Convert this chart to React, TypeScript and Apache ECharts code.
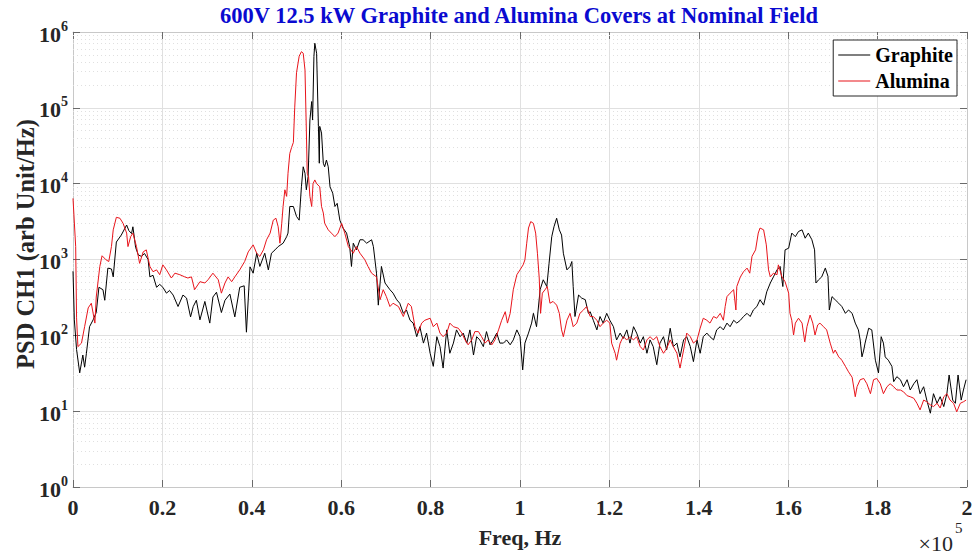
import React, { useEffect, useRef } from 'react';
import * as echarts from 'echarts';

const FF = '"Times New Roman", "Liberation Serif", serif';

const seriesNames = ['Graphite', 'Alumina'];
const chartTitle = '600V 12.5 kW Graphite and Alumina Covers at Nominal Field';
const xName = 'Freq, Hz';
const yName = 'PSD CH1 (arb Unit/Hz)';
const xTickLabels = ['0', '0.2', '0.4', '0.6', '0.8', '1', '1.2', '1.4', '1.6', '1.8', '2'];
const yDecades = [0, 1, 2, 3, 4, 5, 6];
const minorMultipliers = [2, 3, 4, 5, 6, 7, 8, 9];

// Frequency in units of 1e5 Hz, PSD in arb Unit/Hz
const graphite: [number, number][] = [
  [0, 700], [0.003, 160], [0.008, 65], [0.015, 32], [0.022, 55], [0.026, 38], [0.030, 58], [0.037, 130],
  [0.045, 160], [0.052, 200], [0.058, 430], [0.067, 400], [0.071, 290], [0.078, 770], [0.086, 750], [0.090, 590],
  [0.097, 1700], [0.108, 2100], [0.120, 2850], [0.125, 2400], [0.131, 2200], [0.134, 2700], [0.140, 1450], [0.146, 1150],
  [0.153, 1100], [0.160, 1200], [0.168, 1000], [0.172, 590], [0.179, 620], [0.187, 430], [0.194, 470], [0.201, 430],
  [0.209, 360], [0.216, 390], [0.224, 340], [0.235, 240], [0.246, 340], [0.254, 310], [0.263, 175], [0.269, 240],
  [0.276, 290], [0.284, 160], [0.295, 280], [0.306, 145], [0.313, 320], [0.321, 370], [0.332, 200], [0.340, 290],
  [0.351, 350], [0.362, 175], [0.373, 430], [0.383, 450], [0.388, 110], [0.396, 800], [0.403, 660], [0.411, 1210],
  [0.418, 810], [0.429, 1210], [0.437, 730], [0.444, 1210], [0.452, 1340], [0.459, 1480], [0.470, 1640], [0.478, 2000],
  [0.481, 2230], [0.485, 5000], [0.493, 5000], [0.500, 3700], [0.506, 3300], [0.511, 9100], [0.515, 16700], [0.519, 13700],
  [0.522, 8300], [0.526, 12400], [0.530, 69000], [0.534, 121000], [0.536, 69000], [0.539, 477000], [0.541, 710000], [0.545, 525000],
  [0.549, 57000], [0.551, 18600], [0.552, 57000], [0.556, 46500], [0.560, 18600], [0.563, 16700], [0.567, 20500], [0.571, 16700],
  [0.575, 9100], [0.581, 7500], [0.586, 5000], [0.591, 5500], [0.597, 3300], [0.604, 2600], [0.612, 2230], [0.619, 1480],
  [0.623, 810], [0.627, 1640], [0.634, 1340], [0.642, 1820], [0.649, 1820], [0.657, 1640], [0.668, 1820], [0.672, 1480],
  [0.679, 660], [0.683, 250], [0.690, 810], [0.698, 490], [0.709, 400], [0.716, 360], [0.724, 295], [0.731, 265],
  [0.739, 195], [0.746, 216], [0.754, 158], [0.761, 145], [0.769, 96], [0.776, 130], [0.784, 79], [0.791, 107],
  [0.799, 58], [0.806, 39], [0.814, 96], [0.821, 71], [0.828, 37], [0.836, 118], [0.843, 58], [0.851, 79],
  [0.858, 118], [0.866, 96], [0.873, 107], [0.881, 79], [0.888, 118], [0.896, 55], [0.903, 96], [0.910, 87],
  [0.918, 71], [0.925, 112], [0.933, 75], [0.940, 87], [0.948, 107], [0.955, 79], [0.963, 79], [0.970, 87],
  [0.978, 75], [0.985, 87], [0.993, 118], [1.000, 96], [1.006, 35], [1.011, 79], [1.019, 107], [1.026, 145],
  [1.030, 195], [1.037, 130], [1.045, 400], [1.052, 540], [1.060, 440], [1.065, 890], [1.071, 2000], [1.076, 2700],
  [1.082, 3500], [1.088, 2460], [1.093, 2100], [1.097, 1210], [1.105, 730], [1.112, 810], [1.116, 940], [1.119, 440],
  [1.123, 177], [1.131, 340], [1.138, 310], [1.146, 295], [1.153, 195], [1.157, 205], [1.164, 158], [1.172, 118],
  [1.179, 177], [1.186, 145], [1.194, 195], [1.201, 158], [1.209, 130], [1.216, 87], [1.224, 107], [1.231, 91],
  [1.239, 118], [1.246, 79], [1.254, 130], [1.261, 107], [1.269, 79], [1.276, 96], [1.284, 58], [1.291, 87],
  [1.298, 71], [1.306, 41], [1.313, 79], [1.321, 96], [1.328, 64], [1.336, 124], [1.343, 71], [1.351, 79],
  [1.358, 52], [1.366, 87], [1.373, 96], [1.381, 71], [1.388, 45], [1.396, 87], [1.403, 58], [1.410, 96],
  [1.418, 107], [1.425, 96], [1.433, 87], [1.440, 118], [1.448, 130], [1.455, 118], [1.463, 145], [1.470, 130],
  [1.478, 158], [1.485, 145], [1.493, 158], [1.500, 177], [1.508, 195], [1.515, 177], [1.522, 216], [1.530, 240],
  [1.537, 295], [1.545, 250], [1.552, 375], [1.560, 490], [1.567, 590], [1.575, 730], [1.582, 810], [1.588, 440],
  [1.593, 1340], [1.601, 1410], [1.608, 2230], [1.616, 2000], [1.623, 2340], [1.631, 2460], [1.638, 1910], [1.645, 2230],
  [1.653, 1820], [1.659, 1340], [1.662, 490], [1.668, 540], [1.675, 590], [1.683, 770], [1.689, 600], [1.692, 216],
  [1.698, 324], [1.705, 295], [1.713, 265], [1.720, 240], [1.728, 195], [1.735, 216], [1.743, 195], [1.750, 145],
  [1.757, 118], [1.761, 87], [1.765, 52], [1.769, 64], [1.772, 79], [1.780, 124], [1.787, 118], [1.795, 47],
  [1.802, 32], [1.808, 96], [1.813, 79], [1.817, 52], [1.824, 47], [1.832, 39], [1.836, 24.5], [1.843, 28.5],
  [1.851, 26], [1.858, 21], [1.866, 26], [1.873, 19], [1.881, 23], [1.888, 26], [1.895, 17], [1.903, 21],
  [1.910, 14], [1.918, 9.4], [1.925, 17], [1.933, 12.7], [1.940, 15.5], [1.948, 11.5], [1.955, 17], [1.960, 30],
  [1.968, 14], [1.974, 12.7], [1.980, 30], [1.987, 14], [1.992, 19], [1.998, 26],
];

const alumina: [number, number][] = [
  [0, 6400], [0.006, 1480], [0.008, 170], [0.011, 71], [0.019, 79], [0.026, 130], [0.034, 230], [0.041, 265],
  [0.049, 145], [0.052, 320], [0.060, 810], [0.065, 1120], [0.074, 990], [0.080, 940], [0.086, 1480], [0.090, 2460],
  [0.097, 3600], [0.105, 3500], [0.112, 3000], [0.120, 2230], [0.123, 1480], [0.129, 2000], [0.134, 2230], [0.142, 1480],
  [0.149, 890], [0.157, 1260], [0.164, 1340], [0.172, 810], [0.179, 690], [0.187, 730], [0.194, 630], [0.201, 850],
  [0.209, 730], [0.220, 570], [0.228, 660], [0.239, 630], [0.250, 590], [0.257, 570], [0.265, 590], [0.272, 400],
  [0.284, 510], [0.295, 490], [0.302, 540], [0.313, 660], [0.325, 540], [0.332, 360], [0.340, 490], [0.347, 590],
  [0.355, 510], [0.362, 590], [0.373, 730], [0.384, 940], [0.392, 1260], [0.403, 1560], [0.411, 1210], [0.418, 1100],
  [0.426, 1340], [0.433, 1820], [0.441, 2230], [0.448, 3300], [0.454, 3500], [0.459, 2700], [0.463, 1640], [0.467, 3000],
  [0.470, 5000], [0.474, 8300], [0.478, 6800], [0.481, 13700], [0.485, 25000], [0.489, 30000], [0.493, 35000], [0.496, 100000],
  [0.500, 290000], [0.506, 480000], [0.511, 550000], [0.515, 525000], [0.519, 316000], [0.522, 51000], [0.524, 13700], [0.527, 12400],
  [0.530, 6800], [0.534, 5000], [0.537, 10000], [0.541, 11200], [0.545, 10000], [0.552, 9100], [0.556, 5000], [0.560, 4100],
  [0.563, 3000], [0.571, 2460], [0.578, 2230], [0.586, 2000], [0.593, 2230], [0.601, 3000], [0.608, 2230], [0.616, 1480],
  [0.627, 1210], [0.634, 1480], [0.642, 1210], [0.653, 990], [0.660, 810], [0.668, 660], [0.679, 590], [0.687, 295],
  [0.694, 400], [0.701, 324], [0.709, 240], [0.716, 265], [0.728, 240], [0.739, 177], [0.750, 265], [0.757, 240],
  [0.765, 130], [0.772, 107], [0.780, 145], [0.787, 158], [0.799, 168], [0.806, 130], [0.814, 145], [0.821, 107],
  [0.828, 96], [0.836, 107], [0.843, 145], [0.851, 130], [0.862, 124], [0.870, 107], [0.877, 87], [0.884, 75],
  [0.892, 87], [0.899, 112], [0.907, 112], [0.914, 96], [0.922, 79], [0.929, 87], [0.937, 75], [0.944, 87],
  [0.952, 118], [0.959, 158], [0.967, 205], [0.972, 145], [0.978, 195], [0.985, 400], [0.993, 630], [1.000, 730],
  [1.007, 850], [1.011, 990], [1.015, 1640], [1.019, 2600], [1.024, 3160], [1.030, 3000], [1.035, 2230], [1.039, 1210],
  [1.043, 570], [1.046, 195], [1.050, 360], [1.056, 400], [1.061, 440], [1.067, 265], [1.074, 280], [1.082, 250],
  [1.088, 195], [1.093, 118], [1.097, 96], [1.105, 158], [1.112, 195], [1.119, 130], [1.127, 145], [1.134, 195],
  [1.142, 216], [1.149, 240], [1.157, 177], [1.164, 177], [1.172, 158], [1.179, 130], [1.186, 145], [1.194, 158],
  [1.201, 145], [1.205, 79], [1.213, 58], [1.216, 47], [1.224, 79], [1.231, 96], [1.239, 87], [1.246, 96],
  [1.254, 87], [1.261, 96], [1.269, 71], [1.276, 64], [1.284, 87], [1.291, 96], [1.298, 87], [1.306, 96],
  [1.313, 71], [1.321, 58], [1.328, 67], [1.336, 87], [1.343, 71], [1.351, 58], [1.358, 37], [1.366, 64],
  [1.373, 107], [1.381, 96], [1.388, 79], [1.396, 87], [1.403, 124], [1.410, 168], [1.418, 158], [1.425, 145],
  [1.433, 177], [1.440, 168], [1.448, 195], [1.455, 158], [1.459, 240], [1.463, 324], [1.470, 360], [1.478, 400],
  [1.483, 216], [1.485, 440], [1.493, 590], [1.500, 690], [1.508, 770], [1.514, 660], [1.519, 1100], [1.527, 1340],
  [1.533, 2230], [1.537, 2600], [1.545, 2460], [1.551, 1560], [1.556, 730], [1.560, 590], [1.567, 660], [1.575, 630],
  [1.578, 850], [1.586, 590], [1.593, 510], [1.601, 360], [1.604, 195], [1.608, 158], [1.612, 101], [1.616, 145],
  [1.623, 168], [1.631, 145], [1.637, 82], [1.642, 130], [1.649, 185], [1.655, 145], [1.660, 101], [1.666, 137],
  [1.671, 145], [1.679, 130], [1.686, 118], [1.694, 79], [1.701, 58], [1.705, 64], [1.713, 52], [1.720, 47],
  [1.728, 39], [1.735, 33], [1.743, 28], [1.750, 15.5], [1.754, 21], [1.761, 26], [1.769, 27], [1.776, 23],
  [1.784, 17], [1.791, 26], [1.798, 27], [1.806, 23], [1.813, 17], [1.821, 21], [1.828, 23], [1.836, 21],
  [1.843, 19], [1.851, 19], [1.858, 18], [1.866, 16], [1.873, 15.5], [1.881, 14.8], [1.888, 12.7], [1.895, 10.4],
  [1.903, 14], [1.910, 13.3], [1.918, 12.1], [1.925, 11.5], [1.933, 12.7], [1.940, 11], [1.948, 15.5], [1.955, 17],
  [1.962, 14], [1.970, 12.7], [1.977, 9.8], [1.985, 12.7], [1.992, 13.3], [1.998, 14],
];

export default function App() {
  const ref = useRef<HTMLDivElement>(null);

  useEffect(() => {
    document.body.style.margin = '0';
    const chart = echarts.init(ref.current!, null, { renderer: 'svg' });

    const minorValues: number[] = [];
    yDecades.slice(0, -1).forEach((d) => {
      minorMultipliers.forEach((m) => minorValues.push(m * Math.pow(10, d)));
    });

    const axisLineColor = '#c8c8c8';
    const tickColor = '#6a6a6a';
    const xLabelFmt = (v: number) => {
      const idx = Math.round(v / 0.2);
      return xTickLabels[idx] ?? '';
    };

    chart.setOption({
      animation: false,
      backgroundColor: '#ffffff',
      grid: { left: 73, right: 5, top: 32, bottom: 67, containLabel: false, outerBoundsMode: 'none' },
      legend: {
        data: seriesNames,
        orient: 'vertical',
        right: 15,
        top: 40,
        z: 20,
        icon: 'path://M0,0H32V1H0Z',
        itemWidth: 32,
        itemHeight: 1.5,
        itemGap: 6,
        padding: [5, 4, 5, 5],
        backgroundColor: '#ffffff',
        borderColor: '#262626',
        borderWidth: 1,
        borderRadius: 0,
        itemStyle: { borderWidth: 0 },
        textStyle: { fontFamily: FF, fontWeight: 'bold', fontSize: 20, color: '#000000', lineHeight: 17 },
      },
      xAxis: [
        {
          type: 'value', min: 0, max: 2, interval: 0.2, position: 'bottom',
          axisLine: { show: true, onZero: false, lineStyle: { color: axisLineColor } },
          axisTick: { show: true, inside: true, length: 7, lineStyle: { color: tickColor } },
          axisLabel: { formatter: xLabelFmt, fontFamily: FF, fontWeight: 'bold', fontSize: 22, color: '#262626', margin: 9 },
          splitLine: { show: true, lineStyle: { color: '#e0e0e0', width: 1 } },
        },
        {
          type: 'value', min: 0, max: 2, interval: 0.2, position: 'top',
          axisLine: { show: true, onZero: false, lineStyle: { color: axisLineColor } },
          axisTick: { show: true, inside: true, length: 7, lineStyle: { color: tickColor } },
          axisLabel: { show: false },
          splitLine: { show: false },
        },
      ],
      yAxis: [
        {
          type: 'log', logBase: 10, min: 1, max: 1e6, splitNumber: 6, position: 'left',
          axisLine: { show: true, onZero: false, lineStyle: { color: axisLineColor } },
          axisTick: { show: true, inside: true, length: 7, lineStyle: { color: tickColor } },
          axisLabel: {
            formatter: (v: number) => `{b|10}{s|${Math.round(Math.log10(v))}}`,
            margin: 5,
            rich: {
              b: { fontFamily: FF, fontWeight: 'bold', fontSize: 22, color: '#262626', lineHeight: 26, verticalAlign: 'bottom' },
              s: { fontFamily: FF, fontWeight: 'bold', fontSize: 14, color: '#262626', lineHeight: 14, verticalAlign: 'top' },
            },
          },
          splitLine: { show: true, lineStyle: { color: '#e0e0e0', width: 1 } },
        },
        {
          type: 'log', logBase: 10, min: 1, max: 1e6, splitNumber: 6, position: 'right',
          axisLine: { show: true, onZero: false, lineStyle: { color: axisLineColor } },
          axisTick: { show: true, inside: true, length: 7, lineStyle: { color: tickColor } },
          axisLabel: { show: false },
          splitLine: { show: false },
        },
      ],
      graphic: [
        {
          type: 'text', x: 519, y: 15,
          style: { text: chartTitle, fill: '#0a0ad0', font: `bold 22.5px ${FF}`, align: 'center', verticalAlign: 'middle' },
        },
        {
          type: 'text', x: 25, y: 244, rotation: Math.PI / 2,
          style: { text: yName, fill: '#262626', font: `bold 24.5px ${FF}`, align: 'center', verticalAlign: 'middle' },
        },
        {
          type: 'text', x: 520, y: 537,
          style: { text: xName, fill: '#262626', font: `bold 22px ${FF}`, align: 'center', verticalAlign: 'middle' },
        },
        {
          type: 'text', x: 953, y: 543,
          style: { text: '×10', fill: '#262626', font: `22px ${FF}`, align: 'right', verticalAlign: 'middle' },
        },
        {
          type: 'text', x: 955, y: 528,
          style: { text: '5', fill: '#262626', font: `15px ${FF}`, align: 'left', verticalAlign: 'middle' },
        },
      ],
      series: [
        {
          name: 'minorGrid', type: 'line', data: [[0, 1]], symbol: 'none', silent: true, z: 1,
          lineStyle: { opacity: 0 },
          markLine: {
            z: 1,
            silent: true, symbol: ['none', 'none'], label: { show: false },
            lineStyle: { type: [1, 3], color: '#e0e0e0', width: 1 },
            data: minorValues.map((v) => ({ yAxis: v })),
          },
        },
        {
          name: seriesNames[0], type: 'line', data: graphite, symbol: 'none', showSymbol: false, z: 6,
          lineStyle: { color: '#000000', width: 1, type: 'solid' }, itemStyle: { color: '#000000', borderWidth: 0 },
        },
        {
          name: seriesNames[1], type: 'line', data: alumina, symbol: 'none', showSymbol: false, z: 7,
          lineStyle: { color: '#e8141b', width: 1, type: 'solid' }, itemStyle: { color: '#e8141b', borderWidth: 0 },
        },
      ],
    });

    return () => chart.dispose();
  }, []);

  return <div ref={ref} style={{ width: 972, height: 554 }} />;
}
